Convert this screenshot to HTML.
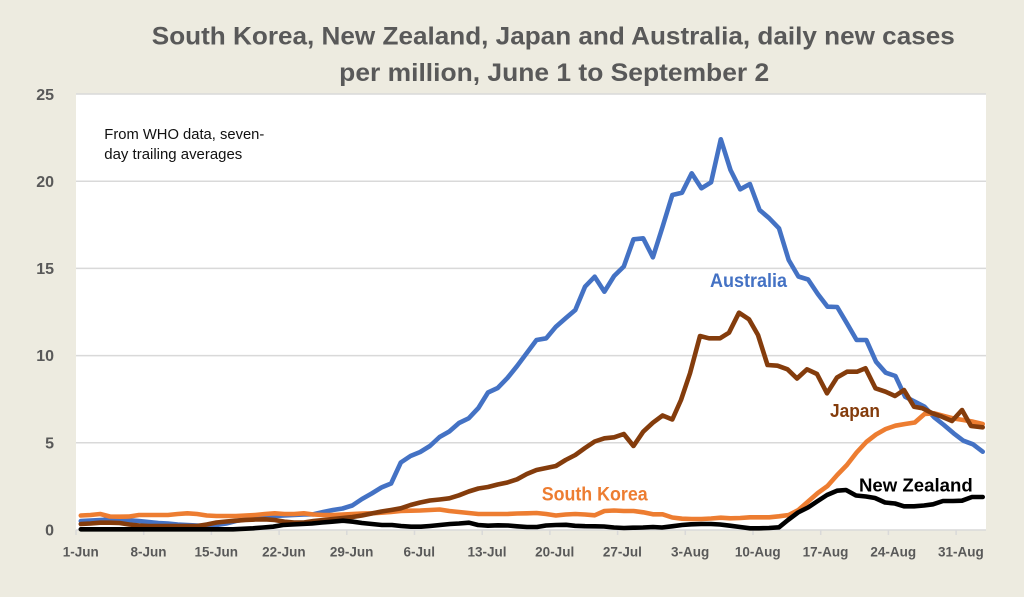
<!DOCTYPE html>
<html>
<head>
<meta charset="utf-8">
<style>
  html,body{margin:0;padding:0;background:#EDEBE0;}
  svg{display:block;}
  .ttl{font-family:"Liberation Sans",Arial,sans-serif;font-weight:bold;fill:#595959;}
  .ax{font-family:"Liberation Sans",Arial,sans-serif;font-weight:bold;fill:#595959;}
  .lbl{font-family:"Liberation Sans",Arial,sans-serif;font-weight:bold;}
  .ann{font-family:"Liberation Sans",Arial,sans-serif;fill:#111;}
  .ln{fill:none;stroke-width:4.6;stroke-linejoin:round;stroke-linecap:round;}
</style>
</head>
<body>
<svg width="1024" height="597" viewBox="0 0 1024 597" xmlns="http://www.w3.org/2000/svg">
  <rect x="0" y="0" width="1024" height="597" fill="#EDEBE0"/>
  <!-- Title -->
  <text class="ttl" x="553.3" y="44.5" font-size="25" text-anchor="middle" textLength="803" lengthAdjust="spacingAndGlyphs">South Korea, New Zealand, Japan and Australia, daily new cases</text>
  <text class="ttl" x="554.2" y="81" font-size="25" text-anchor="middle" textLength="430" lengthAdjust="spacingAndGlyphs">per million, June 1 to September 2</text>

  <!-- Plot area -->
  <rect x="76" y="94" width="910" height="436" fill="#FFFFFF"/>
  <g stroke="#D9D9D9" stroke-width="1.5">
    <line x1="76" y1="94" x2="986" y2="94"/>
    <line x1="76" y1="181.2" x2="986" y2="181.2"/>
    <line x1="76" y1="268.4" x2="986" y2="268.4"/>
    <line x1="76" y1="355.6" x2="986" y2="355.6"/>
    <line x1="76" y1="442.8" x2="986" y2="442.8"/>
    <line x1="76" y1="530" x2="986" y2="530"/>
  </g>
  <!-- x ticks -->
  <g stroke="#D9D9D9" stroke-width="1.5">
    <line x1="76" y1="530" x2="76" y2="535"/>
    <line x1="143.7" y1="530" x2="143.7" y2="535"/>
    <line x1="211.4" y1="530" x2="211.4" y2="535"/>
    <line x1="279.1" y1="530" x2="279.1" y2="535"/>
    <line x1="346.8" y1="530" x2="346.8" y2="535"/>
    <line x1="414.5" y1="530" x2="414.5" y2="535"/>
    <line x1="482.2" y1="530" x2="482.2" y2="535"/>
    <line x1="549.9" y1="530" x2="549.9" y2="535"/>
    <line x1="617.6" y1="530" x2="617.6" y2="535"/>
    <line x1="685.3" y1="530" x2="685.3" y2="535"/>
    <line x1="753" y1="530" x2="753" y2="535"/>
    <line x1="820.7" y1="530" x2="820.7" y2="535"/>
    <line x1="888.4" y1="530" x2="888.4" y2="535"/>
    <line x1="956.1" y1="530" x2="956.1" y2="535"/>
  </g>

  <!-- Y labels -->
  <g class="ax" font-size="16" text-anchor="end">
    <text x="54" y="100">25</text>
    <text x="54" y="187">20</text>
    <text x="54" y="274">15</text>
    <text x="54" y="361">10</text>
    <text x="54" y="448.5">5</text>
    <text x="54" y="535.5">0</text>
  </g>
  <!-- X labels -->
  <g class="ax" font-size="13.5" text-anchor="middle">
    <text x="80.8" y="556.5">1-Jun</text>
    <text x="148.5" y="556.5">8-Jun</text>
    <text x="216.2" y="556.5">15-Jun</text>
    <text x="283.9" y="556.5">22-Jun</text>
    <text x="351.6" y="556.5">29-Jun</text>
    <text x="419.3" y="556.5">6-Jul</text>
    <text x="487" y="556.5">13-Jul</text>
    <text x="554.7" y="556.5">20-Jul</text>
    <text x="622.4" y="556.5">27-Jul</text>
    <text x="690.1" y="556.5">3-Aug</text>
    <text x="757.8" y="556.5">10-Aug</text>
    <text x="825.5" y="556.5">17-Aug</text>
    <text x="893.2" y="556.5">24-Aug</text>
    <text x="960.9" y="556.5">31-Aug</text>
  </g>

  <!-- Annotation -->
  <text class="ann" x="104.3" y="139" font-size="14.5" textLength="160" lengthAdjust="spacingAndGlyphs">From WHO data, seven-</text>
  <text class="ann" x="104.3" y="159" font-size="14.5" textLength="138" lengthAdjust="spacingAndGlyphs">day trailing averages</text>

  <!-- Australia -->
  <polyline class="ln" stroke="#4472C4" points="80.8,521 90.5,520.5 100.2,520 109.9,519.5 119.6,519.3 129.3,520.3 139,521 148.7,522 158.4,523 168,523.5 177.7,524.5 187.4,525 197.1,525.5 206.8,526 216.5,525 226.2,523.5 235.9,521 245.6,519.3 255.3,518 265,517 274.7,516 284.4,515.5 294.1,515 303.8,514.5 313.5,514.3 323.2,512 332.9,510 342.6,508.5 352.3,505.5 362,499 371.7,493.5 381.4,487.5 391.1,483.5 400.8,462.5 410.5,456 420.2,452 429.9,446 439.6,437 449.3,431.5 459,423 468.7,418.3 478.4,408 488,392.5 497.7,388 507.4,378 517.1,366 526.8,353 536.5,340 546.2,338.3 555.9,326.7 565.6,318.3 575.3,310 585,286.7 594.7,276.7 604.4,291.7 614.1,276 623.8,266.5 633.5,239.3 643.2,238.3 652.9,257.3 662.6,226.7 672.3,195 682,192.7 691.7,173.3 701.4,188.3 711.1,182.3 720.8,139.3 730.5,170 740.2,189.3 749.9,184 759.6,210 769.3,218.3 779,228.3 788.7,260 798.4,276.5 808.1,279.5 817.8,294 827.5,306.7 837.2,307 846.9,323.3 856.6,340 866.3,340 876,361.7 885.7,372.7 895.4,376 905.1,396.7 914.8,401.7 924.5,406.7 934.2,417.3 943.9,425 953.6,433.3 963.3,440.7 973,444.3 982.7,451.7"/>

  <!-- South Korea -->
  <polyline class="ln" stroke="#ED7D31" points="80.8,515.5 90.5,515 100.2,514 109.9,516.5 119.6,516.7 129.3,516.5 139,515 148.7,515 158.4,515 168,515 177.7,514 187.4,513.3 197.1,514 206.8,515.5 216.5,516 226.2,516 235.9,516 245.6,515.5 255.3,515 265,514 274.7,513.3 284.4,514 294.1,514 303.8,513.3 313.5,514.5 323.2,515 332.9,515 342.6,514.5 352.3,514 362,513.5 371.7,513.3 381.4,512.7 391.1,512 400.8,511 410.5,510.7 420.2,510.5 429.9,510 439.6,509.5 449.3,511 459,512 468.7,513 478.4,514 488,514 497.7,514 507.4,514 517.1,513.5 526.8,513.3 536.5,513 546.2,514 555.9,515.5 565.6,514.5 575.3,514 585,514.5 594.7,515.3 604.4,511 614.1,510.5 623.8,511 633.5,511 643.2,512.3 652.9,514.3 662.6,514.3 672.3,517.5 682,518.7 691.7,519 701.4,519 711.1,518.5 720.8,517.7 730.5,518.3 740.2,518 749.9,517.3 759.6,517.3 769.3,517.3 779,516.3 788.7,515 798.4,510 808.1,501.5 817.8,493 827.5,486 837.2,475 846.9,465 856.6,452.5 866.3,442 876,434.5 885.7,429 895.4,425.7 905.1,424 914.8,422.5 924.5,414 934.2,413.3 943.9,416 953.6,418.5 963.3,420 973,421.7 982.7,424"/>

  <!-- Japan -->
  <polyline class="ln" stroke="#843C0C" points="80.8,524 90.5,523.5 100.2,522.7 109.9,522.7 119.6,523 129.3,524.5 139,525.5 148.7,526 158.4,526 168,526 177.7,526 187.4,526 197.1,526 206.8,524.5 216.5,522.5 226.2,521.5 235.9,520.7 245.6,520 255.3,519.5 265,519.3 274.7,520 284.4,521.7 294.1,522.5 303.8,522.5 313.5,521 323.2,520 332.9,519 342.6,518 352.3,517 362,515.5 371.7,513.5 381.4,511.5 391.1,510 400.8,508.3 410.5,505 420.2,502.5 429.9,500.5 439.6,499.5 449.3,498.3 459,495.3 468.7,491.5 478.4,488.5 488,487 497.7,484.5 507.4,482.5 517.1,479.3 526.8,474 536.5,470 546.2,468 555.9,466 565.6,460 575.3,455 585,448 594.7,441.5 604.4,438.3 614.1,437.3 623.8,434 633.5,446 643.2,431.7 652.9,422.7 662.6,415.5 672.3,419.5 681,400 690,373.3 700,336 709,338.3 720,338.3 729,332.7 739,312.7 749,319.3 758,335 767.5,365 777.5,365.7 787.5,369.3 797,378.5 807,369.3 817,374 827,393.3 837,377.5 847,371.7 857,371.7 865.5,368.3 875.5,388.3 885.5,391.7 895,396 904,390 914,406.7 922.5,408.3 932.5,413.3 942,416.7 952,421 962,410 971,426 982.7,427.3"/>

  <!-- New Zealand -->
  <polyline class="ln" stroke="#000000" points="80.8,529.3 233,529.3 243,528.8 253,528.3 263,527.5 273,526.7 283,525 292,524.5 302,524 312,523.5 322,522.5 332,521.7 343,520.7 353,521.7 362,523 372,524 382,525 392,525 401,526 411,526.7 421,526.7 430,526 440,525 450,524 459,523.5 469,522.7 478,525 488,525.7 498,525.3 508,525.5 517,526.3 527,527 537,527 546,525.5 556,525 566,524.8 575,525.8 585,526.2 595,526.3 604,526.5 614,527.5 624,528 633,527.7 643,527.5 653,527 662,527.5 672,526.3 682,525 691,524.3 701,524 711,524 720,524.5 730,525.7 740,527 750,528.3 759,528.3 769,528 779,527.3 788,520 798,512.5 808,507.5 817,501.5 827,495 837,490.7 846,490 856,495.5 866,496.5 875,498 885,502.5 895,503.5 904,506.3 914,506.3 924,505.5 933,504.3 943,501 953,501 962,500.7 972,497 982.7,497"/>

  <!-- Series labels -->
  <text class="lbl" x="710" y="287" font-size="19" fill="#4472C4" textLength="77" lengthAdjust="spacingAndGlyphs">Australia</text>
  <text class="lbl" x="541.7" y="500.7" font-size="19" fill="#ED7D31" textLength="106" lengthAdjust="spacingAndGlyphs">South Korea</text>
  <text class="lbl" x="830" y="417" font-size="18" fill="#843C0C" textLength="50" lengthAdjust="spacingAndGlyphs">Japan</text>
  <text class="lbl" x="859" y="491.7" font-size="18" fill="#000000" textLength="113.7" lengthAdjust="spacingAndGlyphs">New Zealand</text>
</svg>
</body>
</html>
